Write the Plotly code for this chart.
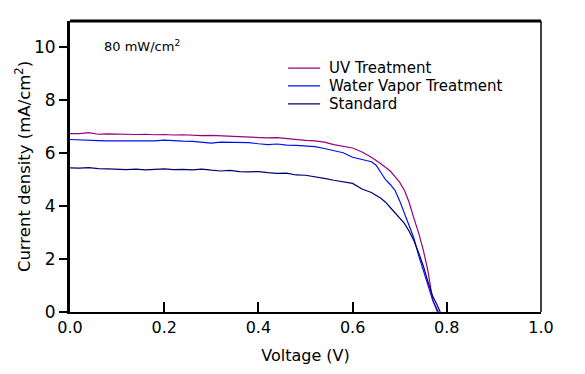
import plotly.graph_objects as go

# Voltage grids (V) and current densities (mA/cm2)
v_uv = [0.00, 0.02, 0.04, 0.06, 0.08, 0.10, 0.12, 0.14, 0.16, 0.18, 0.20, 0.22, 0.24, 0.26, 0.28, 0.30,
        0.32, 0.34, 0.36, 0.38, 0.40, 0.42, 0.44, 0.46, 0.48, 0.50, 0.52, 0.54, 0.56, 0.58, 0.60, 0.62,
        0.64, 0.66, 0.67, 0.68, 0.69, 0.70, 0.71, 0.72, 0.73, 0.74, 0.75, 0.76, 0.77, 0.78]
j_uv = [6.74, 6.74, 6.78, 6.72, 6.73, 6.72, 6.73, 6.71, 6.72, 6.70, 6.71, 6.69, 6.70, 6.68, 6.67, 6.68,
        6.66, 6.65, 6.64, 6.62, 6.60, 6.58, 6.59, 6.55, 6.52, 6.49, 6.47, 6.42, 6.33, 6.27, 6.20, 6.05,
        5.85, 5.60, 5.45, 5.33, 5.12, 4.90, 4.60, 4.15, 3.55, 3.00, 2.35, 1.55, 0.45, 0.00]

v_wv = [0.00, 0.02, 0.04, 0.06, 0.08, 0.10, 0.12, 0.14, 0.16, 0.18, 0.20, 0.22, 0.24, 0.26, 0.28, 0.30,
        0.32, 0.34, 0.36, 0.38, 0.40, 0.42, 0.44, 0.46, 0.48, 0.50, 0.52, 0.54, 0.56, 0.58, 0.60, 0.62,
        0.64, 0.65, 0.66, 0.67, 0.68, 0.69, 0.70, 0.71, 0.72, 0.73, 0.74, 0.75, 0.76, 0.77, 0.78, 0.782]
j_wv = [6.52, 6.50, 6.48, 6.48, 6.47, 6.48, 6.47, 6.47, 6.46, 6.47, 6.50, 6.47, 6.46, 6.45, 6.42, 6.38,
        6.42, 6.41, 6.39, 6.40, 6.36, 6.33, 6.35, 6.31, 6.30, 6.28, 6.25, 6.18, 6.10, 6.02, 5.85, 5.77,
        5.68, 5.55, 5.25, 5.00, 4.82, 4.60, 4.20, 3.75, 3.25, 2.80, 2.15, 1.60, 1.05, 0.45, 0.08, 0.00]

v_std = [0.00, 0.02, 0.04, 0.06, 0.08, 0.10, 0.12, 0.14, 0.16, 0.18, 0.20, 0.22, 0.24, 0.26, 0.28, 0.30,
         0.32, 0.34, 0.36, 0.38, 0.40, 0.42, 0.44, 0.46, 0.48, 0.50, 0.52, 0.54, 0.56, 0.58, 0.60, 0.62,
         0.64, 0.66, 0.67, 0.68, 0.69, 0.70, 0.71, 0.72, 0.73, 0.74, 0.75, 0.76, 0.77, 0.78, 0.786]
j_std = [5.45, 5.44, 5.46, 5.42, 5.41, 5.40, 5.38, 5.40, 5.37, 5.39, 5.41, 5.38, 5.39, 5.37, 5.40, 5.36,
         5.33, 5.35, 5.31, 5.30, 5.31, 5.27, 5.24, 5.25, 5.18, 5.17, 5.12, 5.05, 4.98, 4.93, 4.86, 4.65,
         4.52, 4.30, 4.15, 3.95, 3.75, 3.55, 3.35, 3.05, 2.70, 2.25, 1.75, 1.15, 0.60, 0.25, 0.00]

series_names = ["UV Treatment", "Water Vapor Treatment", "Standard"]
series_colors = ["#990080", "#0010F0", "#000070"]
x_ticks = [0.0, 0.2, 0.4, 0.6, 0.8, 1.0]
x_tick_text = ["0.0", "0.2", "0.4", "0.6", "0.8", "1.0"]
y_ticks = [0, 2, 4, 6, 8, 10]

FONT = "DejaVu Sans, Liberation Sans, sans-serif"

fig = go.Figure()
for xs, ys, name, col in zip([v_uv, v_wv, v_std], [j_uv, j_wv, j_std], series_names, series_colors):
    fig.add_trace(go.Scatter(x=xs, y=ys, mode="lines", name=name,
                             line=dict(color=col, width=1.2), showlegend=False))

# Manual legend (line sample + label)
legend_y = [0.838, 0.777, 0.715]
shapes = [
    dict(type="line", xref="paper", yref="paper", x0=0, x1=1, y0=1, y1=1,
         line=dict(color="black", width=3)),
    dict(type="line", xref="paper", yref="paper", x0=1, x1=1, y0=0, y1=1,
         line=dict(color="black", width=1.5)),
]
annotations = [
    dict(text="80 mW/cm<sup>2</sup>", xref="paper", yref="paper", x=0.068, y=0.914,
         xanchor="left", yanchor="middle", showarrow=False,
         font=dict(size=13, family=FONT, color="black")),
]
for name, col, ly in zip(series_names, series_colors, legend_y):
    shapes.append(dict(type="line", xref="paper", yref="paper", x0=0.463, x1=0.531, y0=ly, y1=ly,
                       line=dict(color=col, width=1.2)))
    annotations.append(dict(text=name, xref="paper", yref="paper", x=0.546, y=ly,
                            xanchor="left", yanchor="middle", showarrow=False,
                            font=dict(size=15, family=FONT, color="black")))

fig.update_layout(
    width=577, height=366,
    margin=dict(l=62, r=44, t=13, b=62, autoexpand=False),
    paper_bgcolor="white", plot_bgcolor="white",
    font=dict(family=FONT, color="black"),
    showlegend=False,
    xaxis=dict(range=[0, 1.0], tickvals=x_ticks, ticktext=x_tick_text,
               ticks="inside", ticklen=10, tickwidth=2, tickcolor="black",
               showline=True, linecolor="black", linewidth=2,
               showgrid=False, zeroline=False, automargin=False,
               tickfont=dict(size=16, family=FONT),
               title=dict(text="Voltage (V)", font=dict(size=16, family=FONT), standoff=14)),
    yaxis=dict(range=[0, 11], tickvals=y_ticks,
               ticks="outside", ticklen=8, tickwidth=1.5, tickcolor="black",
               showline=True, linecolor="black", linewidth=3,
               showgrid=False, zeroline=False, automargin=False,
               tickfont=dict(size=17, family=FONT),
               title=dict(text="Current density (mA/cm<sup>2</sup>)",
                          font=dict(size=16.5, family=FONT), standoff=0)),
    shapes=shapes,
    annotations=annotations,
)

fig.write_html("out.html")
